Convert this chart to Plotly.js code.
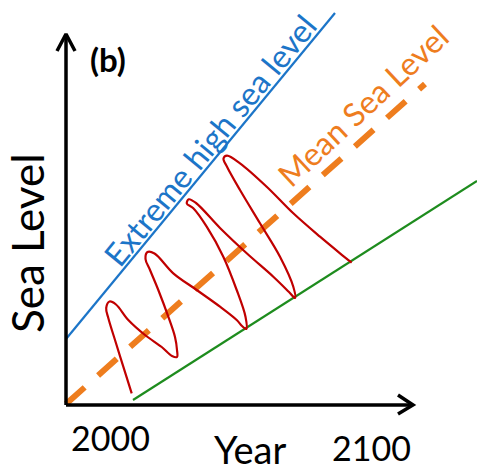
<!DOCTYPE html>
<html>
<head>
<meta charset="utf-8">
<script src="https://cdn.plot.ly/plotly-3.0.1.min.js"></script>
<style>html,body{margin:0;padding:0;background:#fff;}#chart{width:477px;height:474px;}</style>
</head>
<body>
<div id="chart"></div>
<script>
// Schematic coordinates (arbitrary units, origin at the axes corner)
var yAxisX = [0, 0];
var yAxisY = [0, 370];
var yArrowX = [-9, 0, 9];
var yArrowY = [354, 371, 354];
var xAxisX = [0, 347];
var xAxisY = [0, 0];
var xArrowX = [332, 347, 332];
var xArrowY = [10, 0, -9];

var extremeX = [0, 269];
var extremeY = [66, 392];
var meanX = [0, 359];
var meanY = [1, 321];
var lowX = [67, 411];
var lowY = [5, 224];

var tideX = [65.7, 57.3, 49, 42.3, 40.2, 43.5, 50, 62.3, 79, 95.7, 106, 111, 111, 109, 102.3, 92.3, 84, 79.5, 81.5, 88.5,
             107.3, 130.7, 154, 170.7, 176, 180.3, 179.5, 170.7, 157.3, 140.7, 127.3, 120.8, 122.8, 130, 154, 180.7,
             207.3, 223, 229, 227.3, 214, 194, 174, 161, 157.5, 161, 174, 200.7, 227.3, 254, 274, 285.7];
var tideY = [11.7, 38.3, 65, 87, 97, 103.5, 100.5, 85, 70, 58, 49, 48, 55, 68, 88.3, 115, 135, 146, 153, 151.5,
             131.7, 115, 98.3, 85, 79, 76, 88.3, 115, 148.3, 178.3, 196.7, 201.5, 205.7, 202, 177, 151.7,
             128.3, 113, 107, 118.3, 148.3, 181.7, 215, 238.3, 246.5, 249.3, 241.7, 218.3, 191.7, 168.3, 151.7, 142.3];

var panelLabel = "(b)";
var yTitle = "Sea Level";
var xTitle = "Year";
var tickLabels = ["2000", "2100"];
var tickX = [44, 305];
var tickY = [-32, -42];
var extremeLabel = "Extreme high sea level";
var meanLabel = "Mean Sea Level";

var black = "#000000";
var blue = "#1C75C8";
var orange = "#EE7D1E";
var green = "#1E8C1E";
var red = "#C00000";

var traces = [
  {x: extremeX, y: extremeY, mode: "lines", line: {color: blue, width: 2.2}},
  {x: lowX, y: lowY, mode: "lines", line: {color: green, width: 2.2}},
  {x: meanX, y: meanY, mode: "lines", line: {color: orange, width: 6, dash: "25px,18px"}},
  {x: tideX, y: tideY, mode: "lines", line: {color: red, width: 2.2, shape: "spline", smoothing: 1}},
  {x: yAxisX, y: yAxisY, mode: "lines", line: {color: black, width: 3.5}},
  {x: yArrowX, y: yArrowY, mode: "lines", line: {color: black, width: 3.5}},
  {x: xAxisX, y: xAxisY, mode: "lines", line: {color: black, width: 3.5}},
  {x: xArrowX, y: xArrowY, mode: "lines", line: {color: black, width: 3.5}}
];

var font = "Lato, 'Open Sans', sans-serif";
var annotations = [
  {x: 42, y: 346, text: "<b>" + panelLabel + "</b>", font: {family: font, size: 33, color: black}},
  {x: -39, y: 162, text: yTitle, textangle: -90, font: {family: font, size: 44, color: black}},
  {x: 184, y: -44, text: xTitle, font: {family: font, size: 38, color: black}},
  {x: tickX[0], y: tickY[0], text: tickLabels[0], font: {family: font, size: 34, color: black}},
  {x: tickX[1], y: tickY[1], text: tickLabels[1], font: {family: font, size: 34, color: black}},
  {x: 143, y: 265, text: extremeLabel, textangle: -50.6, font: {family: font, size: 32, color: blue}},
  {x: 296, y: 300, text: meanLabel, textangle: -43, font: {family: font, size: 32, color: orange}}
];
annotations.forEach(function(a){ a.showarrow = false; a.xref = "x"; a.yref = "y"; a.xanchor = "center"; a.yanchor = "middle"; });

var layout = {
  width: 477, height: 474,
  margin: {l: 0, r: 0, t: 0, b: 0},
  paper_bgcolor: "#ffffff", plot_bgcolor: "#ffffff",
  showlegend: false,
  xaxis: {range: [-66, 411], visible: false, fixedrange: true},
  yaxis: {range: [-69, 405], visible: false, fixedrange: true},
  annotations: annotations
};
traces.forEach(function(t){ t.hoverinfo = "skip"; t.type = "scatter"; t.cliponaxis = false; });
Plotly.newPlot("chart", traces, layout, {staticPlot: true, displayModeBar: false});
</script>
</body>
</html>
